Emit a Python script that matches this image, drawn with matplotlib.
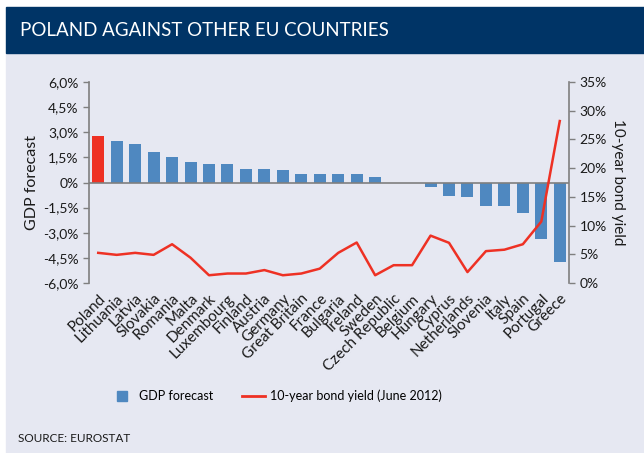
import matplotlib.pyplot as plt
from matplotlib.patches import Rectangle
from matplotlib.lines import Line2D
import numpy as np

plt.rcParams['font.family'] = ['Lato', 'DejaVu Sans']

countries = ['Poland', 'Lithuania', 'Latvia', 'Slovakia', 'Romania', 'Malta',
             'Denmark', 'Luxembourg', 'Finland', 'Austria', 'Germany',
             'Great Britain', 'France', 'Bulgaria', 'Ireland', 'Sweden',
             'Czech Republic', 'Belgium', 'Hungary', 'Cyprus', 'Netherlands',
             'Slovenia', 'Italy', 'Spain', 'Portugal', 'Greece']
gdp = [2.75, 2.5, 2.3, 1.8, 1.5, 1.25, 1.1, 1.1, 0.8, 0.8, 0.75, 0.5, 0.5,
       0.5, 0.5, 0.3, 0.0, 0.0, -0.25, -0.8, -0.85, -1.4, -1.4, -1.85,
       -3.4, -4.75]
bond = [5.25, 4.9, 5.25, 4.9, 6.75, 4.4, 1.35, 1.65, 1.65, 2.25, 1.35, 1.65,
        2.5, 5.25, 7.05, 1.35, 3.1, 3.1, 8.25, 7.0, 1.9, 5.55, 5.8, 6.75,
        10.7, 28.2]

navy = '#003466'
bg = '#E6E8F2'
blue = '#4F88C0'
red = '#EE3124'
spine = '#7F7F7F'
txt = '#1A1A1A'

fig = plt.figure(figsize=(6.44, 4.53), dpi=100)
fig.patches.append(Rectangle((6/644, 0), 1, 1 - 53/453, transform=fig.transFigure,
                             color=bg, zorder=-10))
fig.patches.append(Rectangle((6/644, 1 - 53/453), 1, 46/453, transform=fig.transFigure,
                             color=navy, zorder=-10))
fig.text(20/644, 1 - 31/453, 'POLAND AGAINST OTHER EU COUNTRIES', color='white',
         fontsize=13.5, va='center', ha='left')

ax = fig.add_axes([89/644, 1 - 283/453, 480/644, 201/453])
ax.set_facecolor('none')
x = np.arange(len(countries))
colors = [red] + [blue] * (len(countries) - 1)
ax.bar(x, gdp, width=0.65, color=colors, zorder=2)
ax.axhline(0, color=spine, lw=1.2, zorder=3)
ax.set_xlim(-0.5, len(countries) - 0.5)
ax.set_ylim(-6, 6)
ax.set_yticks(np.arange(-6, 6.1, 1.5))
ax.set_yticklabels(['-6,0%', '-4,5%', '-3,0%', '-1,5%', '0%', '1,5%', '3,0%', '4,5%', '6,0%'])
ax.set_ylabel('GDP forecast', fontsize=11.5, color=txt, labelpad=3)
ax.set_xticks(x)
ax.set_xticklabels(countries, rotation=45, ha='right', rotation_mode='anchor',
                   fontsize=11, color=txt)
ax.tick_params(axis='x', length=0, pad=6)
ax.tick_params(axis='y', labelsize=10, colors=spine, labelcolor=txt, length=4, width=1)
for s in ['top', 'bottom', 'right']:
    ax.spines[s].set_visible(False)
ax.spines['left'].set_color(spine)
ax.spines['left'].set_linewidth(1.2)

ax2 = ax.twinx()
ax2.plot(x, bond, color=red, lw=1.8, zorder=4)
ax2.set_ylim(0, 35)
ax2.set_yticks(np.arange(0, 36, 5))
ax2.set_yticklabels([f'{v}%' for v in range(0, 36, 5)])
ax2.tick_params(axis='y', labelsize=10, colors=spine, labelcolor=txt, length=4, width=1)
for s in ['top', 'bottom', 'left']:
    ax2.spines[s].set_visible(False)
ax2.spines['right'].set_color(spine)
ax2.spines['right'].set_linewidth(1.2)
ax2.set_ylabel('10-year bond yield', rotation=270, fontsize=11, color=txt, labelpad=13)

handles = [Line2D([0], [0], marker='s', markersize=7, color=blue, linestyle='none'),
           Line2D([0], [0], color=red, lw=2)]
fig.legend(handles, ['GDP forecast', '10-year bond yield (June 2012)'],
           loc='center', bbox_to_anchor=(276/644, 1 - 396/453), ncol=2,
           frameon=False, fontsize=9, handlelength=1.9, columnspacing=2.3,
           handletextpad=0.4)
fig.text(18/644, 1 - 438/453, 'SOURCE: EUROSTAT', fontsize=8.5, color=txt,
         va='center', ha='left')

fig.savefig('out.png', dpi=100)
